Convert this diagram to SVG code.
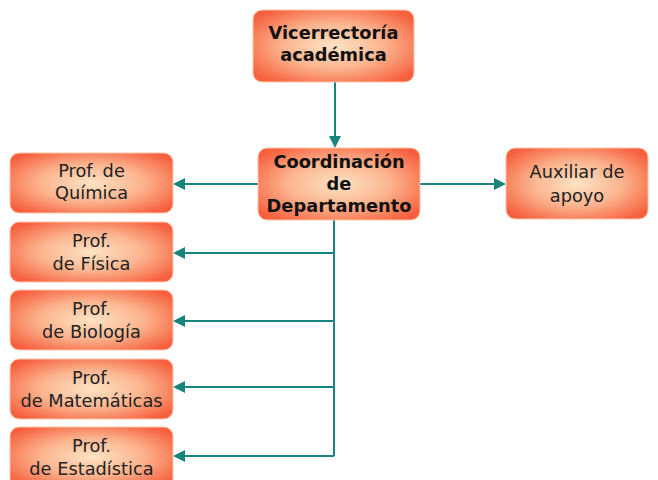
<svg xmlns="http://www.w3.org/2000/svg" width="658" height="480" viewBox="0 0 658 480">
<defs>
<radialGradient id="g" cx="50%" cy="50%" r="62%">
<stop offset="0" stop-color="#fde3c4"/>
<stop offset="0.5" stop-color="#fbb590"/>
<stop offset="1" stop-color="#f7603e"/>
</radialGradient>
<marker id="ah" markerWidth="12" markerHeight="12" refX="10" refY="6" orient="auto" markerUnits="userSpaceOnUse">
<path d="M0,0 L12,6 L0,12 Z" fill="#17847f"/>
</marker>
<style>
.box{fill:url(#g);stroke:#fcc7a8;stroke-width:1}
.t{font-family:"DejaVu Sans",Verdana,sans-serif;font-size:17.8px;fill:#222;text-anchor:middle}
.b{font-family:"DejaVu Sans",Verdana,sans-serif;font-size:17.8px;font-weight:bold;fill:#111;text-anchor:middle}
.c{stroke:#17847f;stroke-width:2;fill:none}
</style>
</defs>
<rect width="658" height="480" fill="#fff"/>
<g id="connectors">
<line class="c" x1="335" y1="82" x2="335" y2="146" marker-end="url(#ah)"/>
<line class="c" x1="258" y1="184" x2="175" y2="184" marker-end="url(#ah)"/>
<line class="c" x1="420" y1="184" x2="504" y2="184" marker-end="url(#ah)"/>
<polyline class="c" points="334,220 334,456"/>
<line class="c" x1="334" y1="253" x2="175" y2="253" marker-end="url(#ah)"/>
<line class="c" x1="334" y1="321" x2="175" y2="321" marker-end="url(#ah)"/>
<line class="c" x1="334" y1="387" x2="175" y2="387" marker-end="url(#ah)"/>
<line class="c" x1="334" y1="456" x2="175" y2="456" marker-end="url(#ah)"/>
</g>
<g id="vicerrectoria">
<rect class="box" x="253" y="10" width="161" height="72" rx="9"/>
<text class="b" x="333.5" y="39">Vicerrectoría</text>
<text class="b" x="333.5" y="61">académica</text>
</g>
<g id="coordinacion">
<rect class="box" x="258" y="148" width="162" height="72" rx="9"/>
<text class="b" x="339" y="168">Coordinación</text>
<text class="b" x="339" y="190">de</text>
<text class="b" x="339" y="212">Departamento</text>
</g>
<g id="auxiliar">
<rect class="box" x="506" y="148" width="142" height="71" rx="9"/>
<text class="t" x="577" y="178">Auxiliar de</text>
<text class="t" x="577" y="202">apoyo</text>
</g>
<g id="quimica">
<rect class="box" x="10" y="153" width="163" height="60" rx="9"/>
<text class="t" x="91.5" y="177">Prof. de</text>
<text class="t" x="91.5" y="199">Química</text>
</g>
<g id="fisica">
<rect class="box" x="10" y="222" width="163" height="60" rx="9"/>
<text class="t" x="91.5" y="247">Prof.</text>
<text class="t" x="91.5" y="270">de Física</text>
</g>
<g id="biologia">
<rect class="box" x="10" y="290" width="163" height="60" rx="9"/>
<text class="t" x="91.5" y="315">Prof.</text>
<text class="t" x="91.5" y="338">de Biología</text>
</g>
<g id="matematicas">
<rect class="box" x="10" y="359" width="163" height="60" rx="9"/>
<text class="t" x="91.5" y="384">Prof.</text>
<text class="t" x="91.5" y="407">de Matemáticas</text>
</g>
<g id="estadistica">
<rect class="box" x="10" y="427" width="163" height="60" rx="9"/>
<text class="t" x="91.5" y="452">Prof.</text>
<text class="t" x="91.5" y="475">de Estadística</text>
</g>
</svg>
